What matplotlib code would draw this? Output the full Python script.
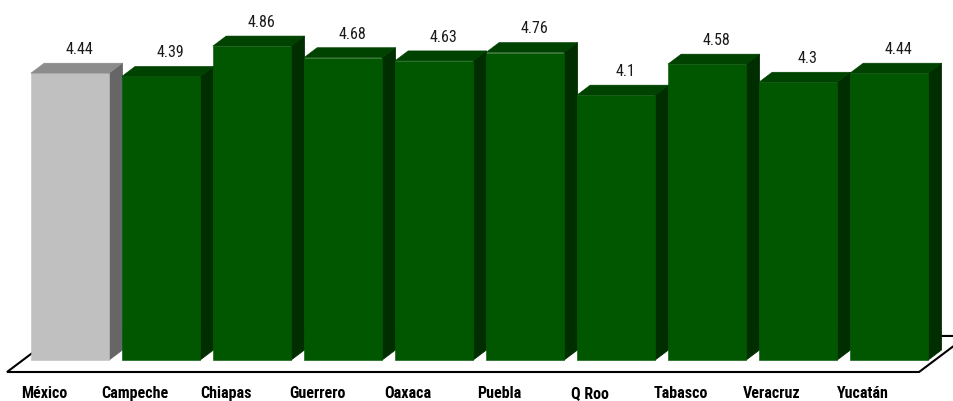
import matplotlib
matplotlib.use("Agg")
import matplotlib.pyplot as plt
from matplotlib.patches import Polygon
from matplotlib import font_manager as fm

categories = ["México", "Campeche", "Chiapas", "Guerrero", "Oaxaca",
              "Puebla", "Q Roo", "Tabasco", "Veracruz", "Yucatán"]
values = [4.44, 4.39, 4.86, 4.68, 4.63, 4.76, 4.1, 4.58, 4.3, 4.44]
value_labels = ["4.44", "4.39", "4.86", "4.68", "4.63", "4.76", "4.1", "4.58", "4.3", "4.44"]

# pick an installed narrow sans family that has both regular and bold weights
candidates = ["Liberation Sans Narrow", "Arial Narrow", "Roboto Condensed",
              "PT Sans Narrow", "Fira Sans Condensed", "IBM Plex Sans Condensed",
              "Archivo Narrow", "Barlow Semi Condensed", "Encode Sans Condensed",
              "Sofia Sans Condensed", "Saira SemiCondensed"]
weights = {}
for f in fm.fontManager.ttflist:
    w = f.weight if isinstance(f.weight, int) else 400
    weights.setdefault(f.name, set()).add(w)
narrow = None
for c in candidates:
    if c in weights and any(w >= 700 for w in weights[c]) and any(w <= 400 for w in weights[c]):
        narrow = c
        break
fams = ([narrow] if narrow else []) + ["Liberation Sans", "DejaVu Sans"]
plt.rcParams['font.family'] = fams

fig = plt.figure(figsize=(9.54, 4.01), dpi=100)
ax = fig.add_axes([0, 0, 1, 1])
ax.set_xlim(-0.769, 9.714)
ax.set_ylim(-0.635, 5.573)
ax.axis('off')

DX, DY = 0.146, 0.155
HW = 0.43

green = dict(front="#005700", top="#004300", side="#002e00")
grey = dict(front="#c0c0c0", top="#8c8c8c", side="#666666")

fy0, fy1 = -0.186, 0.372
fx0, fx1 = -0.692, 9.33
fdx = 0.527
floor = Polygon([(fx0, fy0), (fx1, fy0), (fx1 + fdx, fy1), (fx0 + fdx, fy1)],
                closed=True, facecolor="white", edgecolor="black", lw=1.5, zorder=1)
ax.add_patch(floor)

for i, (v, lab) in enumerate(zip(values, value_labels)):
    c = grey if i == 0 else green
    x0, x1 = i - HW, i + HW
    side = Polygon([(x1, 0), (x1 + DX, DY), (x1 + DX, v + DY), (x1, v)], closed=True,
                   facecolor=c["side"], edgecolor=c["side"], lw=0.6, zorder=3)
    front = Polygon([(x0, 0), (x1, 0), (x1, v), (x0, v)], closed=True,
                    facecolor=c["front"], edgecolor=c["front"], lw=0.4, zorder=3)
    top = Polygon([(x0, v), (x1, v), (x1 + DX, v + DY), (x0 + DX, v + DY)], closed=True,
                  facecolor=c["top"], edgecolor=c["top"], lw=0.4, zorder=3)
    for p in (side, front, top):
        ax.add_patch(p)
    ax.text(i + 0.1, v + DY + 0.14, lab, ha="center", va="baseline",
            fontsize=11.5, color="#1a1a1a", zorder=4)

for i, cat in enumerate(categories):
    ax.text(i - 0.286, -0.588, cat, ha="center", va="baseline",
            fontsize=11.5, fontweight="bold", color="black", zorder=4)

fig.savefig("out.png", dpi=100)
